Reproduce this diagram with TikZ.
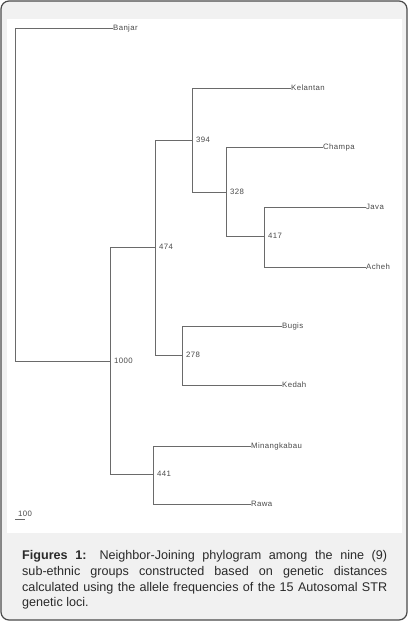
\documentclass[tikz,border=0pt]{standalone}
\usepackage{fontspec}
\setmainfont{Liberation Sans}
\newfontfamily\labfont[LetterSpace=5]{Liberation Sans}
\definecolor{framec}{HTML}{4A4A4A}
\definecolor{panelc}{HTML}{F1F1F1}
\definecolor{treec}{HTML}{6A6A6A}
\definecolor{labc}{HTML}{4A4A4A}
\definecolor{capc}{HTML}{2A2A2A}
\begin{document}
\begin{tikzpicture}[x=1pt,y=-1pt,
  branch/.style={draw=treec,line width=1pt},
  leaf/.style={anchor=west,inner sep=0pt,xshift=4pt,text=labc,font=\labfont\fontsize{7.8}{8}\selectfont},
  numlab/.style={anchor=west,inner sep=0pt,xshift=4pt,text=labc,font=\labfont\fontsize{7.8}{8}\selectfont},
  capline/.style={anchor=base west,inner sep=0pt,text=capc,font=\fontsize{12.6}{15.7}\selectfont}]
\useasboundingbox (0,0) rectangle (408,621);
% frame and panels
\draw[draw=framec,fill=panelc,line width=1.2pt,rounded corners=8pt] (1,1) rectangle (407,620);
\fill[white] (7,19) rectangle (402,533);
% internal nodes
\coordinate (root) at (15,361);
\coordinate (n1000) at (110,361);
\coordinate (n474) at (155,247);
\coordinate (n394) at (192,140);
\coordinate (n328) at (226,192);
\coordinate (n417) at (264,236);
\coordinate (n278) at (182,355);
\coordinate (n441) at (153,474);
% leaves
\node[leaf] (banjar) at (109,28) {Banjar};
\node[leaf] (kelantan) at (287,88) {Kelantan};
\node[leaf] (champa) at (319,147) {Champa};
\node[leaf] (java) at (362,207) {Java};
\node[leaf] (acheh) at (362,267) {Acheh};
\node[leaf] (bugis) at (278,326) {Bugis};
\node[leaf] (kedah) at (278,385) {Kedah};
\node[leaf] (minang) at (247,446) {Minangkabau};
\node[leaf] (rawa) at (247,504) {Rawa};
% branches
\draw[branch] (root) |- (banjar.west);
\draw[branch] (root) -- (n1000);
\draw[branch] (n1000) |- (n474);
\draw[branch] (n1000) |- (n441);
\draw[branch] (n474) |- (n394);
\draw[branch] (n474) |- (n278);
\draw[branch] (n394) |- (kelantan.west);
\draw[branch] (n394) |- (n328);
\draw[branch] (n328) |- (champa.west);
\draw[branch] (n328) |- (n417);
\draw[branch] (n417) |- (java.west);
\draw[branch] (n417) |- (acheh.west);
\draw[branch] (n278) |- (bugis.west);
\draw[branch] (n278) |- (kedah.west);
\draw[branch] (n441) |- (minang.west);
\draw[branch] (n441) |- (rawa.west);
% bootstrap values
\node[numlab] (b1000) at (n1000) {1000};
\node[numlab] (b474) at (n474) {474};
\node[numlab] (b394) at (n394) {394};
\node[numlab] (b328) at (n328) {328};
\node[numlab] (b417) at (n417) {417};
\node[numlab] (b278) at (n278) {278};
\node[numlab] (b441) at (n441) {441};
% scale bar
\coordinate (sba) at (15,519);
\coordinate (sbb) at (25,519);
\draw[branch,line width=0.8pt] (sba) -- (sbb);
\node[anchor=west,inner sep=0pt,text=labc,font=\labfont\fontsize{7.8}{8}\selectfont] (scale) at (18,514) {100};
% caption
\node[capline] (cap1) at (22,559) {\hbox to 365pt{\textbf{Figures 1:} Neighbor-Joining phylogram among the nine (9)}};
\node[capline] (cap2) at (22,575) {\hbox to 365pt{sub-ethnic groups constructed based on genetic distances}};
\node[capline] (cap3) at (22,591) {\hbox to 365pt{calculated using the allele frequencies of the 15 Autosomal STR}};
\node[capline] (cap4) at (22,606.5) {genetic loci.};
\end{tikzpicture}
\end{document}
